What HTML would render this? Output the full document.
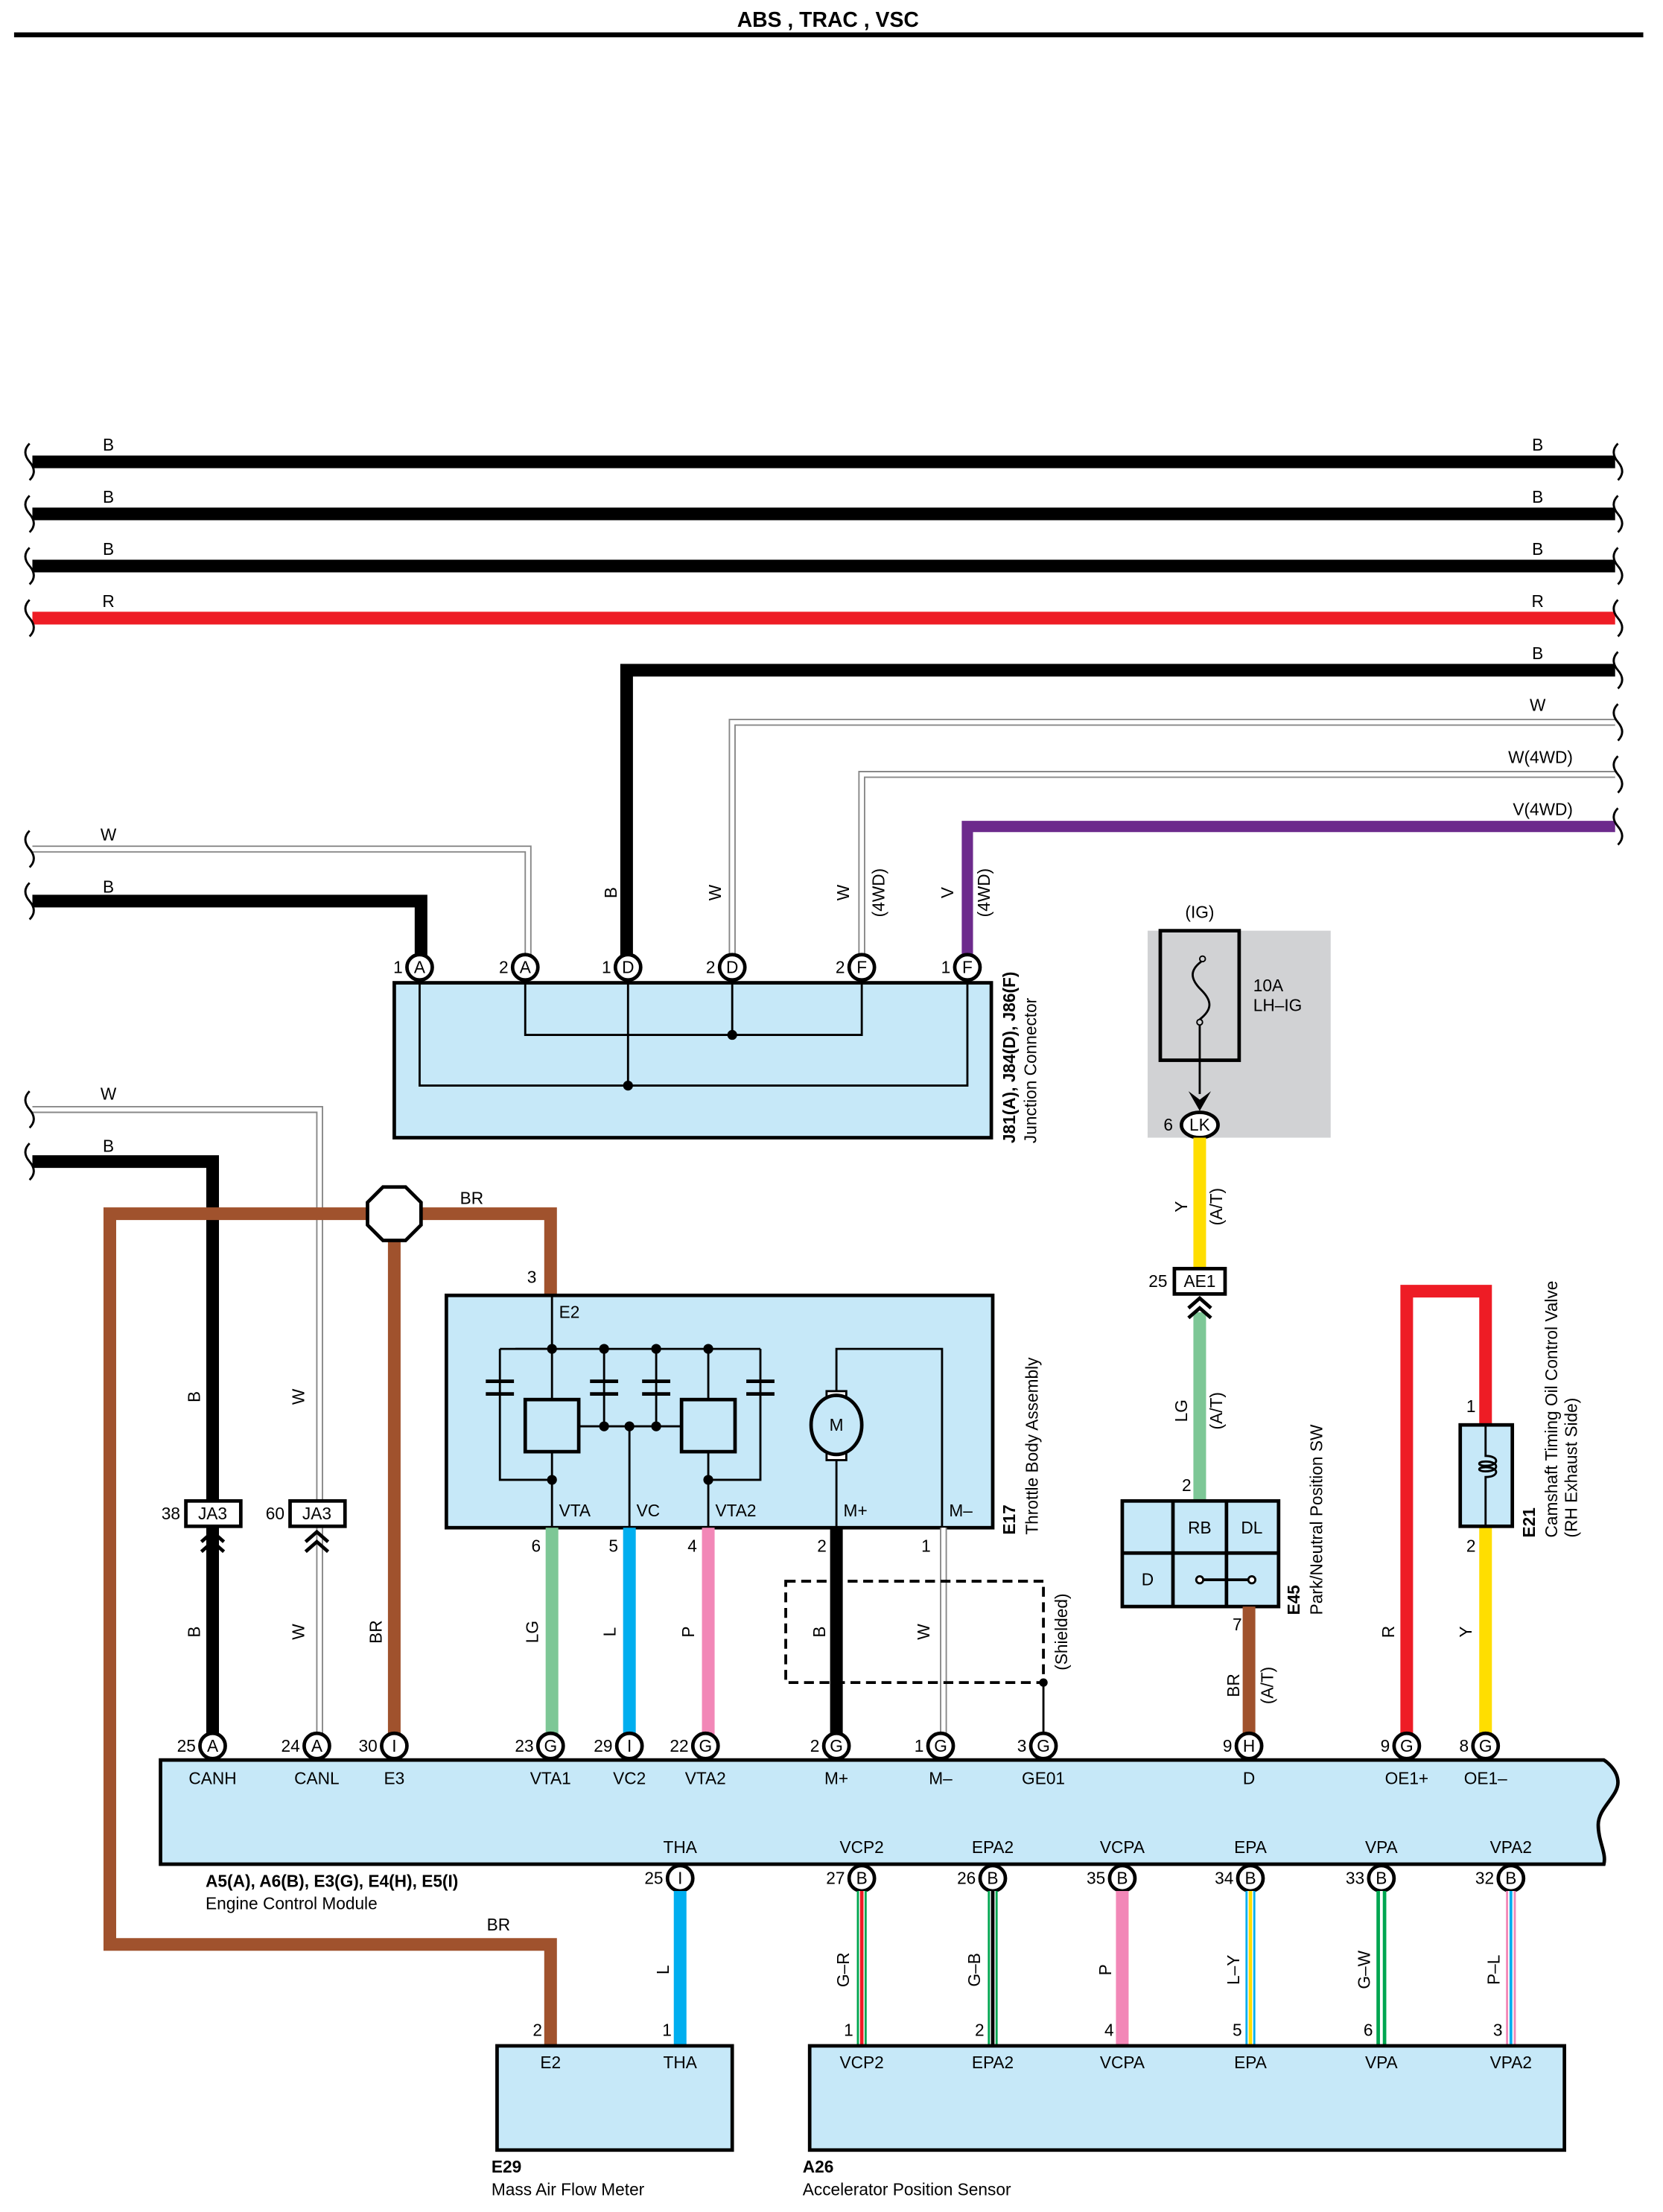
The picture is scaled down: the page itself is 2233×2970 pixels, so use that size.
<!DOCTYPE html>
<html><head><meta charset="utf-8"><style>
html,body{margin:0;padding:0;background:#fff}
svg{display:block}
text{font-family:"Liberation Sans",sans-serif;font-size:12px;fill:#000}
.b{font-weight:bold}
.m{text-anchor:middle}
.e{text-anchor:end}
</style></head><body>
<svg width="2233" height="2970" viewBox="0 0 1181 1571" preserveAspectRatio="none" xmlns="http://www.w3.org/2000/svg">
<defs>
<g id="brk"><path d="M0,-13 q-6,6 0,13 q6,7 0,13" fill="none" stroke="#000" stroke-width="1.5"/></g>
</defs>
<rect width="1181" height="1571" fill="#fff"/>
<text x="588" y="19" class="b m" style="font-size:15px">ABS , TRAC , VSC</text>
<rect x="10" y="23" width="1157" height="3.5" fill="#000"/>
<g transform="translate(1,2)">
<!-- top bus -->
<g stroke-linecap="butt" fill="none">
<line x1="22" y1="326" x2="1146" y2="326" stroke="#000" stroke-width="9"/>
<line x1="22" y1="363" x2="1146" y2="363" stroke="#000" stroke-width="9"/>
<line x1="22" y1="400" x2="1146" y2="400" stroke="#000" stroke-width="9"/>
<line x1="22" y1="437" x2="1146" y2="437" stroke="#ee1c25" stroke-width="9"/>
<polyline points="1146,474 444,474 444,686" stroke="#000" stroke-width="9"/>
<polyline points="1146,511 519,511 519,686" stroke="#888" stroke-width="5"/>
<polyline points="1146,511 519,511 519,686" stroke="#fff" stroke-width="3"/>
<polyline points="1146,548 611,548 611,686" stroke="#888" stroke-width="5"/>
<polyline points="1146,548 611,548 611,686" stroke="#fff" stroke-width="3"/>
<polyline points="1146,585 686,585 686,686" stroke="#6c2a8c" stroke-width="8"/>
<polyline points="22,601 374,601 374,686" stroke="#888" stroke-width="5"/>
<polyline points="22,601 374,601 374,686" stroke="#fff" stroke-width="3"/>
<polyline points="22,638 298,638 298,686" stroke="#000" stroke-width="9"/>
<polyline points="22,786 226,786 226,1238" stroke="#888" stroke-width="5"/>
<polyline points="22,786 226,786 226,1238" stroke="#fff" stroke-width="3"/>
<polyline points="22,823 150,823 150,1238" stroke="#000" stroke-width="9"/>
<polyline points="390,918 390,860 77,860 77,1379 390,1379 390,1450" stroke="#a0522d" stroke-width="9"/>
<line x1="279" y1="860" x2="279" y2="1238" stroke="#a0522d" stroke-width="9"/>
</g>
<g>
<use href="#brk" x="20" y="326"/><use href="#brk" x="20" y="363"/><use href="#brk" x="20" y="400"/><use href="#brk" x="20" y="437"/>
<use href="#brk" x="1148" y="326"/><use href="#brk" x="1148" y="363"/><use href="#brk" x="1148" y="400"/><use href="#brk" x="1148" y="437"/>
<use href="#brk" x="1148" y="474"/><use href="#brk" x="1148" y="511"/><use href="#brk" x="1148" y="548"/><use href="#brk" x="1148" y="585"/>
<use href="#brk" x="20" y="601"/><use href="#brk" x="20" y="638"/><use href="#brk" x="20" y="786"/><use href="#brk" x="20" y="823"/>
</g>
<g>
<text x="76" y="318" class="m">B</text><text x="1091" y="318" class="m">B</text>
<text x="76" y="355" class="m">B</text><text x="1091" y="355" class="m">B</text>
<text x="76" y="392" class="m">B</text><text x="1091" y="392" class="m">B</text>
<text x="76" y="429" class="m">R</text><text x="1091" y="429" class="m">R</text>
<text x="1091" y="466" class="m">B</text>
<text x="1091" y="503" class="m">W</text>
<text x="1116" y="540" class="e">W(4WD)</text>
<text x="1116" y="577" class="e">V(4WD)</text>
<text x="76" y="595" class="m">W</text>
<text x="76" y="632" class="m">B</text>
<text x="76" y="779" class="m">W</text>
<text x="76" y="816" class="m">B</text>
<text x="334" y="853" class="m">BR</text>
<text x="353" y="1369" class="m">BR</text>
</g>
<g>
<text transform="translate(437,632) rotate(-90)" class="m">B</text>
<text transform="translate(511,632) rotate(-90)" class="m">W</text>
<text transform="translate(602,632) rotate(-90)" class="m">W</text>
<text transform="translate(627,632) rotate(-90)" class="m">(4WD)</text>
<text transform="translate(676,632) rotate(-90)" class="m">V</text>
<text transform="translate(702,632) rotate(-90)" class="m">(4WD)</text>
</g>

<rect x="279" y="696" width="424" height="110" fill="#c6e8f8" stroke="#000" stroke-width="2.5"/>
<g fill="none" stroke="#000" stroke-width="1.5">
<polyline points="372,696 372,733 611,733 611,696"/>
<line x1="519" y1="696" x2="519" y2="733"/>
<polyline points="297,696 297,769 686,769 686,696"/>
<line x1="445" y1="696" x2="445" y2="769"/>
</g>
<circle cx="519" cy="733" r="3.5"/><circle cx="445" cy="769" r="3.5"/>
<text transform="translate(720,810) rotate(-90)" class="b">J81(A), J84(D), J86(F)</text>
<text transform="translate(735,810) rotate(-90)">Junction Connector</text>

<g stroke="#000" stroke-width="2.5" fill="#fff">
<circle cx="297" cy="685" r="9"/><circle cx="372" cy="685" r="9"/><circle cx="445" cy="685" r="9"/>
<circle cx="519" cy="685" r="9"/><circle cx="611" cy="685" r="9"/><circle cx="686" cy="685" r="9"/>
</g>
<g>
<text x="297" y="689" class="m">A</text><text x="372" y="689" class="m">A</text><text x="445" y="689" class="m">D</text>
<text x="519" y="689" class="m">D</text><text x="611" y="689" class="m">F</text><text x="686" y="689" class="m">F</text>
</g>
<text x="285" y="689" class="e">1</text><text x="360" y="689" class="e">2</text><text x="433" y="689" class="e">1</text>
<text x="507" y="689" class="e">2</text><text x="599" y="689" class="e">2</text><text x="674" y="689" class="e">1</text>

<rect x="814" y="659" width="130" height="147" fill="#d1d2d4"/>
<rect x="823" y="659" width="56" height="92" fill="#d1d2d4" stroke="#000" stroke-width="2.5"/>
<text x="851" y="650" class="m">(IG)</text>
<text x="889" y="702">10A</text><text x="889" y="716">LH–IG</text>
<path d="M852,681 c-8,6 -8,12 0,20 c8,8 8,14 -1,21" fill="none" stroke="#000" stroke-width="1.5"/>
<circle cx="853" cy="679" r="2" fill="none" stroke="#000"/><circle cx="851" cy="724" r="2" fill="none" stroke="#000"/>
<line x1="851" y1="726" x2="851" y2="775" stroke="#000" stroke-width="1.5"/>
<path d="M843,773 L851,787 L859,773 L851,779 Z" fill="#000"/>
<ellipse cx="851" cy="797" rx="13" ry="9" fill="#fff" stroke="#000" stroke-width="2.5"/>
<text x="851" y="801" class="m">LK</text><text x="832" y="801" class="e">6</text>

<line x1="851" y1="806" x2="851" y2="899" stroke="#ffde00" stroke-width="9"/>
<text transform="translate(842,855) rotate(-90)" class="m">Y</text>
<text transform="translate(867,855) rotate(-90)" class="m">(A/T)</text>
<rect x="833" y="899" width="36" height="18" fill="#fff" stroke="#000" stroke-width="2.5"/>
<text x="851" y="912" class="m">AE1</text><text x="828" y="912" class="e">25</text>
<line x1="851" y1="930" x2="851" y2="1064" stroke="#7dc796" stroke-width="9"/>
<g fill="none" stroke="#000" stroke-width="2.5">
<polyline points="843,927 851,920 859,927"/><polyline points="843,934 851,927 859,934"/>
</g>
<text transform="translate(842,1000) rotate(-90)" class="m">LG</text>
<text transform="translate(867,1000) rotate(-90)" class="m">(A/T)</text>
<text x="845" y="1057" class="e">2</text>

<rect x="796" y="1064" width="111" height="75" fill="#c6e8f8" stroke="#000" stroke-width="2.5"/>
<g stroke="#000" stroke-width="2.5"><line x1="832" y1="1064" x2="832" y2="1139"/><line x1="870" y1="1064" x2="870" y2="1139"/><line x1="796" y1="1101" x2="907" y2="1101"/></g>
<text x="851" y="1087" class="m">RB</text><text x="888" y="1087" class="m">DL</text><text x="814" y="1124" class="m">D</text>
<line x1="851" y1="1120" x2="888" y2="1120" stroke="#000" stroke-width="2"/>
<circle cx="851" cy="1120" r="2.5" fill="#fff" stroke="#000" stroke-width="1.5"/><circle cx="888" cy="1120" r="2.5" fill="#fff" stroke="#000" stroke-width="1.5"/>
<text transform="translate(922,1145) rotate(-90)" class="b">E45</text>
<text transform="translate(938,1145) rotate(-90)">Park/Neutral Position SW</text>
<line x1="886" y1="1139" x2="886" y2="1238" stroke="#a0522d" stroke-width="9"/>
<text x="881" y="1156" class="e">7</text>
<text transform="translate(879,1195) rotate(-90)" class="m">BR</text>
<text transform="translate(903,1195) rotate(-90)" class="m">(A/T)</text>

<polyline points="998,1238 998,915 1054,915 1054,1010" fill="none" stroke="#ee1c25" stroke-width="9"/>
<line x1="1054" y1="1082" x2="1054" y2="1238" stroke="#ffde00" stroke-width="9"/>
<rect x="1036" y="1010" width="37" height="72" fill="#c6e8f8" stroke="#000" stroke-width="2.5"/>
<path d="M1054,1010 V1032 c10,0 10,7 0,7 c-6,0 -6,-3 0,-3 c10,0 10,7 0,7 c-6,0 -6,-3 0,-3 c10,0 10,7 0,7 V1082" fill="none" stroke="#000" stroke-width="1.5"/>
<text x="1047" y="1001" class="e">1</text><text x="1047" y="1100" class="e">2</text>
<text transform="translate(1089,1090) rotate(-90)" class="b">E21</text>
<text transform="translate(1105,1090) rotate(-90)">Camshaft Timing Oil Control Valve</text>
<text transform="translate(1119,1090) rotate(-90)">(RH Exhaust Side)</text>
<text transform="translate(989,1157) rotate(-90)" class="m">R</text>
<text transform="translate(1044,1157) rotate(-90)" class="m">Y</text>

<rect x="131" y="1064" width="39" height="18" fill="#fff" stroke="#000" stroke-width="2.5"/>
<rect x="205" y="1064" width="39" height="18" fill="#fff" stroke="#000" stroke-width="2.5"/>
<text x="150" y="1077" class="m">JA3</text><text x="224" y="1077" class="m">JA3</text>
<text x="127" y="1077" class="e">38</text><text x="201" y="1077" class="e">60</text>
<g fill="none" stroke="#000" stroke-width="2.5">
<polyline points="142,1093 150,1086 158,1093"/><polyline points="142,1100 150,1093 158,1100"/>
<polyline points="216,1093 224,1086 232,1093"/><polyline points="216,1100 224,1093 232,1100"/>
</g>
<text transform="translate(141,990) rotate(-90)" class="m">B</text>
<text transform="translate(215,990) rotate(-90)" class="m">W</text>
<text transform="translate(141,1157) rotate(-90)" class="m">B</text>
<text transform="translate(215,1157) rotate(-90)" class="m">W</text>
<text transform="translate(270,1157) rotate(-90)" class="m">BR</text>
<polygon points="271,841 287,841 298,852 298,868 287,879 271,879 260,868 260,852" fill="#fff" stroke="#000" stroke-width="2.5"/>

<text x="380" y="909" class="e">3</text>
<rect x="316" y="918" width="388" height="165" fill="#c6e8f8" stroke="#000" stroke-width="2.5"/>
<text x="396" y="934">E2</text>
<g fill="none" stroke="#000" stroke-width="1.5">
<line x1="391" y1="918" x2="391" y2="1083"/>
<polyline points="365,956 539,956"/>
<polyline points="354,956 354,1049 391,1049"/>
<polyline points="539,956 539,1049 502,1049"/>
<line x1="428" y1="956" x2="428" y2="1011"/>
<line x1="465" y1="956" x2="465" y2="1011"/>
<line x1="502" y1="956" x2="502" y2="1083"/>
<line x1="410" y1="1011" x2="482" y2="1011"/>
<line x1="446" y1="1011" x2="446" y2="1083"/>
<polyline points="593,1083 593,956 668,956 668,1083"/>
<line x1="354" y1="956" x2="391" y2="956"/>
</g>
<g fill="#c6e8f8" stroke="#000" stroke-width="2.5">
<rect x="372" y="992" width="38" height="37"/>
<rect x="483" y="992" width="38" height="37"/>
</g>
<g stroke="#000" stroke-width="2.5">
<line x1="344" y1="979" x2="364" y2="979"/><line x1="344" y1="988" x2="364" y2="988"/>
<line x1="418" y1="979" x2="438" y2="979"/><line x1="418" y1="988" x2="438" y2="988"/>
<line x1="455" y1="979" x2="475" y2="979"/><line x1="455" y1="988" x2="475" y2="988"/>
<line x1="529" y1="979" x2="549" y2="979"/><line x1="529" y1="988" x2="549" y2="988"/>
</g>
<g fill="#000">
<circle cx="391" cy="956" r="3.5"/><circle cx="428" cy="956" r="3.5"/><circle cx="465" cy="956" r="3.5"/><circle cx="502" cy="956" r="3.5"/>
<circle cx="428" cy="1011" r="3.5"/><circle cx="446" cy="1011" r="3.5"/><circle cx="465" cy="1011" r="3.5"/>
<circle cx="391" cy="1049" r="3.5"/><circle cx="502" cy="1049" r="3.5"/>
</g>
<rect x="586" y="986" width="14" height="6" fill="#fff" stroke="#000" stroke-width="1.5"/>
<rect x="586" y="1029" width="14" height="6" fill="#fff" stroke="#000" stroke-width="1.5"/>
<ellipse cx="593" cy="1010" rx="18" ry="21" fill="#c6e8f8" stroke="#000" stroke-width="2.5"/>
<text x="593" y="1014" class="m">M</text>
<text x="396" y="1075">VTA</text><text x="451" y="1075">VC</text><text x="507" y="1075">VTA2</text>
<text x="598" y="1075">M+</text><text x="673" y="1075">M–</text>
<text transform="translate(720,1088) rotate(-90)" class="b">E17</text>
<text transform="translate(736,1088) rotate(-90)">Throttle Body Assembly</text>

<line x1="391" y1="1083" x2="391" y2="1238" stroke="#7dc796" stroke-width="9"/>
<line x1="446" y1="1083" x2="446" y2="1238" stroke="#00aeef" stroke-width="9"/>
<line x1="502" y1="1083" x2="502" y2="1238" stroke="#f287b7" stroke-width="9"/>
<line x1="593" y1="1083" x2="593" y2="1238" stroke="#000" stroke-width="9"/>
<line x1="669" y1="1083" x2="669" y2="1238" stroke="#888" stroke-width="5"/>
<line x1="669" y1="1083" x2="669" y2="1238" stroke="#fff" stroke-width="3"/>
<text x="383" y="1100" class="e">6</text><text x="438" y="1100" class="e">5</text><text x="494" y="1100" class="e">4</text>
<text x="586" y="1100" class="e">2</text><text x="660" y="1100" class="e">1</text>
<text transform="translate(381,1157) rotate(-90)" class="m">LG</text>
<text transform="translate(436,1157) rotate(-90)" class="m">L</text>
<text transform="translate(492,1157) rotate(-90)" class="m">P</text>
<text transform="translate(585,1157) rotate(-90)" class="m">B</text>
<text transform="translate(659,1157) rotate(-90)" class="m">W</text>
<rect x="557" y="1121" width="183" height="72" fill="none" stroke="#000" stroke-width="2" stroke-dasharray="7,4"/>
<line x1="740" y1="1193" x2="740" y2="1238" stroke="#000" stroke-width="1.5"/>
<circle cx="740" cy="1193" r="3"/>
<text transform="translate(757,1157) rotate(-90)" class="m">(Shielded)</text>

<path d="M113,1248 H1138 c0,0 10,6 10,16 c0,10 -14,18 -14,30 c0,12 6,20 4,28 H113 Z" fill="#c6e8f8" stroke="#000" stroke-width="2.5"/>
<g stroke="#000" stroke-width="2.5" fill="#fff">
<circle cx="150" cy="1238" r="9"/><circle cx="224" cy="1238" r="9"/><circle cx="279" cy="1238" r="9"/>
<circle cx="390" cy="1238" r="9"/><circle cx="446" cy="1238" r="9"/><circle cx="500" cy="1238" r="9"/>
<circle cx="593" cy="1238" r="9"/><circle cx="667" cy="1238" r="9"/><circle cx="740" cy="1238" r="9"/>
<circle cx="886" cy="1238" r="9"/><circle cx="998" cy="1238" r="9"/><circle cx="1054" cy="1238" r="9"/>
<circle cx="482" cy="1332" r="9"/><circle cx="611" cy="1332" r="9"/><circle cx="704" cy="1332" r="9"/>
<circle cx="796" cy="1332" r="9"/><circle cx="887" cy="1332" r="9"/><circle cx="980" cy="1332" r="9"/><circle cx="1072" cy="1332" r="9"/>
</g>
<g>
<text x="150" y="1242" class="m">A</text><text x="224" y="1242" class="m">A</text><text x="279" y="1242" class="m">I</text>
<text x="390" y="1242" class="m">G</text><text x="446" y="1242" class="m">I</text><text x="500" y="1242" class="m">G</text>
<text x="593" y="1242" class="m">G</text><text x="667" y="1242" class="m">G</text><text x="740" y="1242" class="m">G</text>
<text x="886" y="1242" class="m">H</text><text x="998" y="1242" class="m">G</text><text x="1054" y="1242" class="m">G</text>
<text x="482" y="1336" class="m">I</text><text x="611" y="1336" class="m">B</text><text x="704" y="1336" class="m">B</text>
<text x="796" y="1336" class="m">B</text><text x="887" y="1336" class="m">B</text><text x="980" y="1336" class="m">B</text><text x="1072" y="1336" class="m">B</text>
<text x="138" y="1242" class="e">25</text><text x="212" y="1242" class="e">24</text><text x="267" y="1242" class="e">30</text>
<text x="378" y="1242" class="e">23</text><text x="434" y="1242" class="e">29</text><text x="488" y="1242" class="e">22</text>
<text x="581" y="1242" class="e">2</text><text x="655" y="1242" class="e">1</text><text x="728" y="1242" class="e">3</text>
<text x="874" y="1242" class="e">9</text><text x="986" y="1242" class="e">9</text><text x="1042" y="1242" class="e">8</text>
<text x="470" y="1336" class="e">25</text><text x="599" y="1336" class="e">27</text><text x="692" y="1336" class="e">26</text>
<text x="784" y="1336" class="e">35</text><text x="875" y="1336" class="e">34</text><text x="968" y="1336" class="e">33</text><text x="1060" y="1336" class="e">32</text>
</g>
<g>
<text x="150" y="1265" class="m">CANH</text><text x="224" y="1265" class="m">CANL</text><text x="279" y="1265" class="m">E3</text>
<text x="390" y="1265" class="m">VTA1</text><text x="446" y="1265" class="m">VC2</text><text x="500" y="1265" class="m">VTA2</text>
<text x="593" y="1265" class="m">M+</text><text x="667" y="1265" class="m">M–</text><text x="740" y="1265" class="m">GE01</text>
<text x="886" y="1265" class="m">D</text><text x="998" y="1265" class="m">OE1+</text><text x="1054" y="1265" class="m">OE1–</text>
<text x="482" y="1314" class="m">THA</text><text x="611" y="1314" class="m">VCP2</text><text x="704" y="1314" class="m">EPA2</text>
<text x="796" y="1314" class="m">VCPA</text><text x="887" y="1314" class="m">EPA</text><text x="980" y="1314" class="m">VPA</text><text x="1072" y="1314" class="m">VPA2</text>
</g>
<text x="145" y="1338" class="b">A5(A), A6(B), E3(G), E4(H), E5(I)</text>
<text x="145" y="1354">Engine Control Module</text>

<line x1="482" y1="1341" x2="482" y2="1450" stroke="#00aeef" stroke-width="9"/>
<g>
<line x1="611" y1="1341" x2="611" y2="1450" stroke="#00a650" stroke-width="7"/>
<line x1="611" y1="1341" x2="611" y2="1450" stroke="#fff" stroke-width="4"/>
<line x1="611" y1="1341" x2="611" y2="1450" stroke="#ee1c25" stroke-width="2.5"/>
<line x1="704" y1="1341" x2="704" y2="1450" stroke="#00a650" stroke-width="7"/>
<line x1="704" y1="1341" x2="704" y2="1450" stroke="#fff" stroke-width="4"/>
<line x1="704" y1="1341" x2="704" y2="1450" stroke="#000" stroke-width="2.5"/>
<line x1="796" y1="1341" x2="796" y2="1450" stroke="#f287b7" stroke-width="9"/>
<line x1="887" y1="1341" x2="887" y2="1450" stroke="#00aeef" stroke-width="7"/>
<line x1="887" y1="1341" x2="887" y2="1450" stroke="#fff" stroke-width="4"/>
<line x1="887" y1="1341" x2="887" y2="1450" stroke="#ffde00" stroke-width="2.5"/>
<line x1="980" y1="1341" x2="980" y2="1450" stroke="#00a650" stroke-width="7"/>
<line x1="980" y1="1341" x2="980" y2="1450" stroke="#fff" stroke-width="2"/>
<line x1="1072" y1="1341" x2="1072" y2="1450" stroke="#f287b7" stroke-width="7"/>
<line x1="1072" y1="1341" x2="1072" y2="1450" stroke="#fff" stroke-width="4"/>
<line x1="1072" y1="1341" x2="1072" y2="1450" stroke="#00aeef" stroke-width="2"/>
</g>
<text transform="translate(474,1397) rotate(-90)" class="m">L</text>
<text transform="translate(602,1397) rotate(-90)" class="m">G–R</text>
<text transform="translate(695,1397) rotate(-90)" class="m">G–B</text>
<text transform="translate(788,1397) rotate(-90)" class="m">P</text>
<text transform="translate(879,1397) rotate(-90)" class="m">L–Y</text>
<text transform="translate(972,1397) rotate(-90)" class="m">G–W</text>
<text transform="translate(1064,1397) rotate(-90)" class="m">P–L</text>
<text x="384" y="1444" class="e">2</text><text x="476" y="1444" class="e">1</text>
<text x="605" y="1444" class="e">1</text><text x="698" y="1444" class="e">2</text><text x="790" y="1444" class="e">4</text>
<text x="881" y="1444" class="e">5</text><text x="974" y="1444" class="e">6</text><text x="1066" y="1444" class="e">3</text>

<rect x="352" y="1451" width="167" height="74" fill="#c6e8f8" stroke="#000" stroke-width="2.5"/>
<text x="390" y="1467" class="m">E2</text><text x="482" y="1467" class="m">THA</text>
<text x="348" y="1541" class="b">E29</text><text x="348" y="1557">Mass Air Flow Meter</text>
<rect x="574" y="1451" width="536" height="74" fill="#c6e8f8" stroke="#000" stroke-width="2.5"/>
<text x="611" y="1467" class="m">VCP2</text><text x="704" y="1467" class="m">EPA2</text><text x="796" y="1467" class="m">VCPA</text>
<text x="887" y="1467" class="m">EPA</text><text x="980" y="1467" class="m">VPA</text><text x="1072" y="1467" class="m">VPA2</text>
<text x="569" y="1541" class="b">A26</text><text x="569" y="1557">Accelerator Position Sensor</text>
</g>
</svg>
</body></html>
